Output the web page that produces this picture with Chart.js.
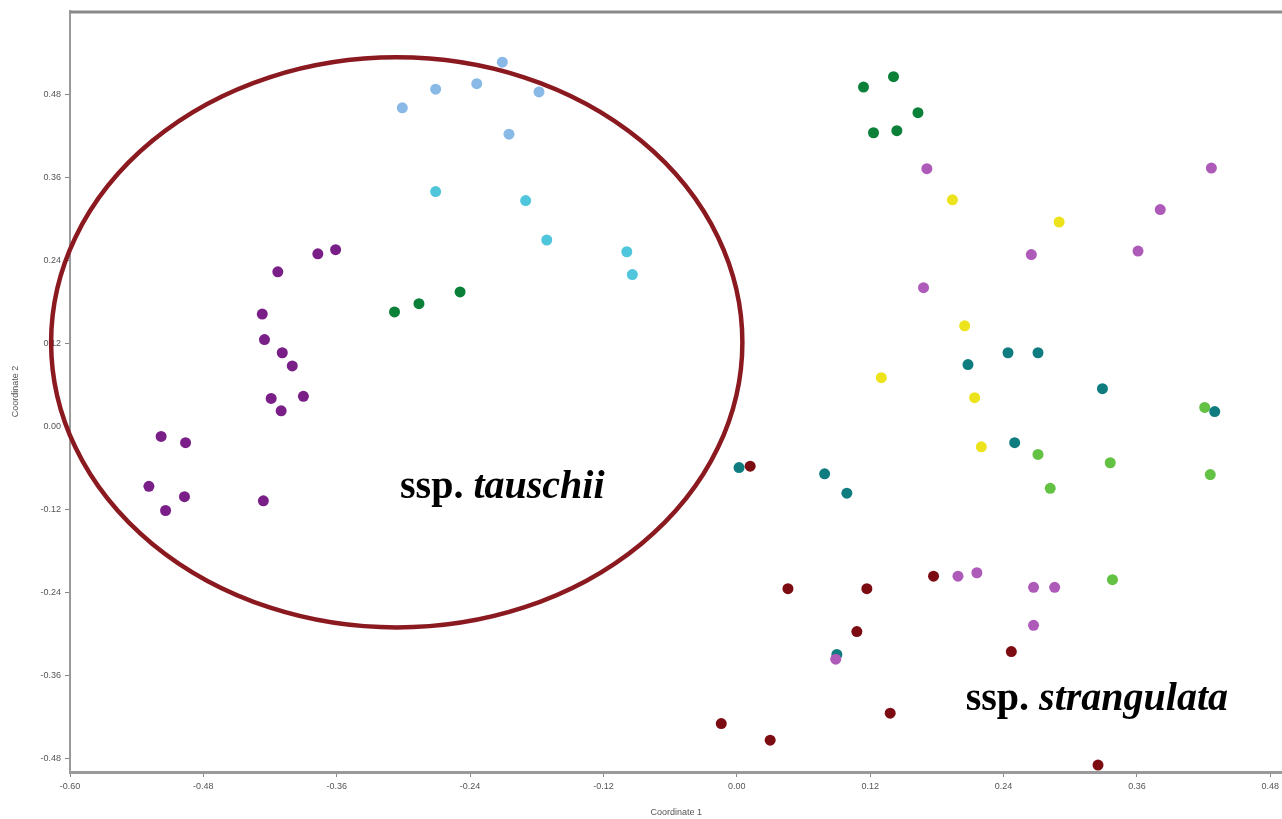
<!DOCTYPE html>
<html>
<head>
<meta charset="utf-8">
<script src="https://cdn.jsdelivr.net/npm/chart.js@4.4.1/dist/chart.umd.min.js"></script>
<style>
  html, body { margin: 0; padding: 0; background: #ffffff; overflow: hidden; }
  #wrap { width: 1282px; height: 819px; overflow: hidden; }
</style>
</head>
<body>
<div id="wrap"><canvas id="c" width="1288" height="819"></canvas></div>
<script>
// ---------- data ----------
const xTickValues = [-0.60, -0.48, -0.36, -0.24, -0.12, 0.00, 0.12, 0.24, 0.36, 0.48];
const yTickValues = [-0.48, -0.36, -0.24, -0.12, 0.00, 0.12, 0.24, 0.36, 0.48];
const xTitle = "Coordinate 1";
const yTitle = "Coordinate 2";

const lightBlue = [[-0.301,0.460],[-0.271,0.487],[-0.234,0.495],[-0.211,0.526],[-0.178,0.483],[-0.205,0.422]];
const cyan = [[-0.271,0.339],[-0.190,0.326],[-0.171,0.269],[-0.099,0.252],[-0.094,0.219]];
const darkPurple = [[-0.361,0.255],[-0.377,0.249],[-0.413,0.223],[-0.427,0.162],[-0.425,0.125],[-0.409,0.106],
  [-0.400,0.087],[-0.419,0.040],[-0.390,0.043],[-0.410,0.022],[-0.518,-0.015],[-0.496,-0.024],
  [-0.529,-0.087],[-0.497,-0.102],[-0.514,-0.122],[-0.426,-0.108]];
const green = [[-0.308,0.165],[-0.286,0.177],[-0.249,0.194],[0.114,0.490],[0.141,0.505],[0.163,0.453],[0.123,0.424],[0.144,0.427]];
const orchid = [[0.171,0.372],[0.168,0.200],[0.265,0.248],[0.361,0.253],[0.381,0.313],[0.427,0.373],
  [0.199,-0.217],[0.216,-0.212],[0.267,-0.233],[0.286,-0.233],[0.267,-0.288],[0.089,-0.337]];
const yellow = [[0.194,0.327],[0.290,0.295],[0.205,0.145],[0.130,0.070],[0.214,0.041],[0.220,-0.030]];
const teal = [[0.208,0.089],[0.244,0.106],[0.271,0.106],[0.329,0.054],[0.430,0.021],[0.250,-0.024],
  [0.002,-0.060],[0.079,-0.069],[0.099,-0.097],[0.090,-0.330]];
const lightGreen = [[0.421,0.027],[0.271,-0.041],[0.336,-0.053],[0.426,-0.070],[0.282,-0.090],[0.338,-0.222]];
const darkRed = [[0.012,-0.058],[0.046,-0.235],[0.117,-0.235],[0.177,-0.217],[0.108,-0.297],[0.247,-0.326],
  [-0.014,-0.430],[0.030,-0.454],[0.138,-0.415],[0.325,-0.490]];

// ellipse around ssp. tauschii (data units)
const ellipseCenter = [-0.306, 0.121];
const ellipseRadii = [0.311, 0.412];
const labelTauschii = { x: -0.211, y: -0.089, plain: "ssp. ", italic: "tauschii" };
const labelStrangulata = { x: 0.324, y: -0.395, plain: "ssp. ", italic: "strangulata" };

// ---------- chart ----------
const toPts = arr => arr.map(p => ({ x: p[0], y: p[1] }));
const mk = (label, arr, color) => ({
  label, data: toPts(arr), backgroundColor: color, borderColor: color,
  pointRadius: 5.5, pointHoverRadius: 5.5, borderWidth: 0, pointStyle: 'circle'
});

const decorPlugin = {
  id: 'decor',
  beforeDatasetsDraw(chart) {
    const ctx = chart.ctx, a = chart.chartArea;
    ctx.save();
    ctx.strokeStyle = '#8a8a8a';
    ctx.lineWidth = 3;
    ctx.beginPath();
    ctx.moveTo(a.left, a.top + 1);
    ctx.lineTo(a.right, a.top + 1);
    ctx.stroke();
    ctx.restore();
  },
  afterDatasetsDraw(chart) {
    const ctx = chart.ctx, xs = chart.scales.x, ys = chart.scales.y;
    const cx = xs.getPixelForValue(ellipseCenter[0]);
    const cy = ys.getPixelForValue(ellipseCenter[1]);
    const rx = Math.abs(xs.getPixelForValue(ellipseCenter[0] + ellipseRadii[0]) - cx);
    const ry = Math.abs(ys.getPixelForValue(ellipseCenter[1] + ellipseRadii[1]) - cy);
    ctx.save();
    ctx.strokeStyle = '#8b1a20';
    ctx.lineWidth = 4.5;
    ctx.beginPath();
    ctx.ellipse(cx, cy, rx, ry, 0, 0, Math.PI * 2);
    ctx.stroke();

    const drawLabel = (lab) => {
      const px = xs.getPixelForValue(lab.x), py = ys.getPixelForValue(lab.y);
      const f1 = 'bold 40px "Liberation Serif", "DejaVu Serif", serif';
      const f2 = 'italic bold 40px "Liberation Serif", "DejaVu Serif", serif';
      ctx.font = f1; const w1 = ctx.measureText(lab.plain).width;
      ctx.font = f2; const w2 = ctx.measureText(lab.italic).width;
      const x0 = px - (w1 + w2) / 2;
      ctx.fillStyle = '#000';
      ctx.textBaseline = 'middle';
      ctx.textAlign = 'left';
      ctx.font = f1; ctx.fillText(lab.plain, x0, py);
      ctx.font = f2; ctx.fillText(lab.italic, x0 + w1, py);
    };
    drawLabel(labelTauschii);
    drawLabel(labelStrangulata);
    ctx.restore();
  }
};

const tickFont = { family: '"Liberation Sans", Arial, sans-serif', size: 9 };

new Chart(document.getElementById('c'), {
  type: 'scatter',
  data: {
    datasets: [
      mk('orchid', orchid, '#ad5ab9'),
      mk('darkRed', darkRed, '#7d0c12'),
      mk('teal', teal, '#0f7c80'),
      mk('lightGreen', lightGreen, '#63c143'),
      mk('yellow', yellow, '#ece31c'),
      mk('green', green, '#0a8039'),
      mk('darkPurple', darkPurple, '#7a1f88'),
      mk('cyan', cyan, '#4fc6db'),
      mk('lightBlue', lightBlue, '#89b9e7')
    ]
  },
  options: {
    responsive: false,
    animation: false,
    devicePixelRatio: 1,
    layout: { padding: { top: 11, right: 0, left: 0, bottom: 0 } },
    plugins: { legend: { display: false }, tooltip: { enabled: false } },
    scales: {
      x: {
        type: 'linear', min: -0.60, max: 0.491,
        afterBuildTicks: s => { s.ticks = xTickValues.map(v => ({ value: v })); },
        afterFit: s => { s.height = 47; },
        grid: { display: true, drawOnChartArea: false, drawTicks: true, tickLength: 5, color: '#888', lineWidth: 1 },
        border: { display: true, color: '#9a9a9a', width: 3 },
        ticks: { font: tickFont, color: '#555', padding: 4, maxRotation: 0, autoSkip: false,
                 callback: v => Number(v).toFixed(2) },
        title: { display: true, text: xTitle, font: tickFont, color: '#555', padding: { top: 0, bottom: 1 } }
      },
      y: {
        type: 'linear', min: -0.50, max: 0.60,
        afterBuildTicks: s => { s.ticks = yTickValues.map(v => ({ value: v })); },
        afterFit: s => { s.width = 70; },
        grid: { display: true, drawOnChartArea: false, drawTicks: true, tickLength: 5, color: '#888', lineWidth: 1 },
        border: { display: true, color: '#9a9a9a', width: 2 },
        ticks: { font: tickFont, color: '#555', padding: 4, autoSkip: false,
                 callback: v => Number(v).toFixed(2) },
        title: { display: true, text: yTitle, font: tickFont, color: '#555', padding: { top: 10, bottom: 0 } }
      }
    }
  },
  plugins: [decorPlugin]
});
</script>
</body>
</html>
